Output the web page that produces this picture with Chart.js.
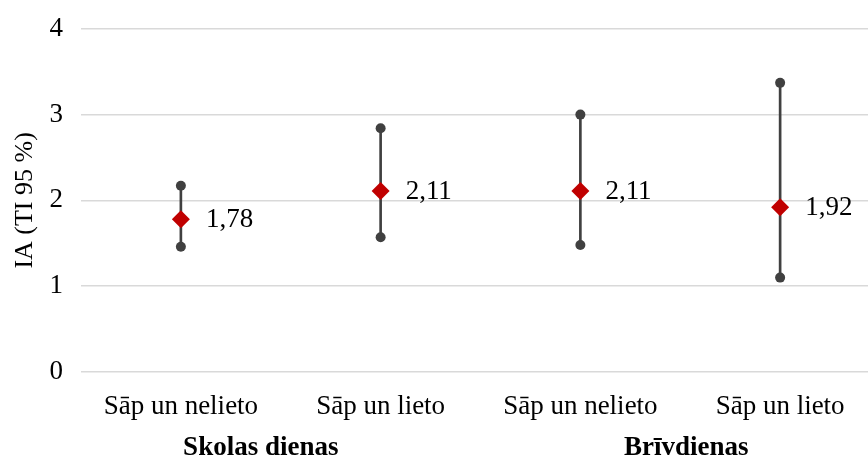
<!DOCTYPE html>
<html>
<head>
<meta charset="utf-8">
<title>IA (TI 95 %)</title>
<script src="https://cdn.jsdelivr.net/npm/chart.js@4"></script>
<style>
  html, body { margin: 0; padding: 0; background: #fff; overflow: hidden; }
  #wrap { width: 889px; height: 459px; }
</style>
</head>
<body>
<div id="wrap"><canvas id="iaChart" width="889" height="459"></canvas></div>
<script>
// categories and values
const categories = ['Sāp un nelieto', 'Sāp un lieto', 'Sāp un nelieto', 'Sāp un lieto'];
const groups = ['Skolas dienas', 'Brīvdienas'];
const groupCenters = [0.4, 2.53];   // group label centre, in category units
const iaValues = [1.78, 2.11, 2.11, 1.92];
const ciLower = [1.46, 1.57, 1.48, 1.10];
const ciUpper = [2.17, 2.84, 3.00, 3.37];
const yTicks = [0, 1, 2, 3, 4];

const FONT = '"Liberation Serif", "Times New Roman", serif';
const INK = '#000';
const WHISKER = '#404040';

// value labels ("1,78") to the right of each diamond + group names + y title
const labelsPlugin = {
  id: 'iaLabels',
  afterDatasetsDraw(chart) {
    const ctx = chart.ctx;
    const meta = chart.getDatasetMeta(3);
    ctx.save();
    ctx.font = '27px ' + FONT;
    ctx.fillStyle = INK;
    ctx.textAlign = 'left';
    ctx.textBaseline = 'middle';
    meta.data.forEach((pt, i) => {
      ctx.fillText(iaValues[i].toFixed(2).replace('.', ','), pt.x + 25, pt.y + 1);
    });
    ctx.restore();
  },
  afterDraw(chart) {
    const ctx = chart.ctx;
    const x = chart.scales.x;
    const area = chart.chartArea;
    const p0 = x.getPixelForValue(0), p1 = x.getPixelForValue(1);
    ctx.save();
    ctx.fillStyle = INK;
    ctx.font = 'bold 27px ' + FONT;
    ctx.textAlign = 'center';
    ctx.textBaseline = 'middle';
    groups.forEach((g, i) => {
      ctx.fillText(g, p0 + (p1 - p0) * groupCenters[i], 448);
    });
    // y axis title
    ctx.font = '26px ' + FONT;
    ctx.translate(25, (area.top + area.bottom) / 2);
    ctx.rotate(-Math.PI / 2);
    ctx.fillText('IA (TI 95 %)', 0, 0);
    ctx.restore();
  }
};

new Chart(document.getElementById('iaChart'), {
  type: 'bar',
  data: {
    labels: categories,
    datasets: [
      {
        // whisker line between the bounds
        type: 'bar',
        data: ciLower.map((lo, i) => [lo, ciUpper[i]]),
        backgroundColor: WHISKER,
        barThickness: 2,
        order: 4
      },
      {
        type: 'line',
        data: ciLower,
        showLine: false,
        pointRadius: 5,
        pointBackgroundColor: WHISKER,
        pointBorderWidth: 0,
        order: 3
      },
      {
        type: 'line',
        data: ciUpper,
        showLine: false,
        pointRadius: 5,
        pointBackgroundColor: WHISKER,
        pointBorderWidth: 0,
        order: 2
      },
      {
        type: 'line',
        data: iaValues,
        showLine: false,
        pointStyle: 'rectRot',
        pointRadius: 9,
        pointBackgroundColor: '#C00000',
        pointBorderWidth: 0,
        order: 1
      }
    ]
  },
  options: {
    responsive: false,
    devicePixelRatio: 1,
    animation: false,
    layout: { padding: { top: 27, right: 0, left: 0, bottom: 0 } },
    plugins: { legend: { display: false }, tooltip: { enabled: false } },
    scales: {
      x: {
        offset: true,
        grid: { display: false },
        border: { display: false },
        ticks: { color: INK, font: { family: FONT, size: 27 }, padding: 11, maxRotation: 0 },
        afterFit(s) { s.height = 87; }
      },
      y: {
        min: 0,
        max: 4,
        afterBuildTicks(s) { s.ticks = yTicks.map(v => ({ value: v })); },
        grid: { color: '#d9d9d9', lineWidth: 1.5, drawTicks: false },
        border: { display: false },
        ticks: { color: INK, font: { family: FONT, size: 27, lineHeight: 0.8 }, padding: 18 },
        afterFit(s) { s.width = 81; }
      }
    }
  },
  plugins: [labelsPlugin]
});
</script>
</body>
</html>
